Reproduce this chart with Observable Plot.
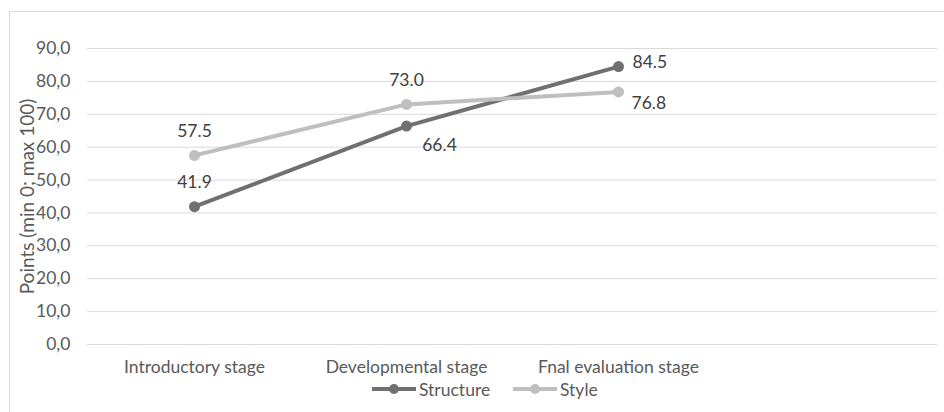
<!DOCTYPE html>
<html><head><meta charset="utf-8">
<script src="https://cdn.jsdelivr.net/npm/d3@7"></script>
<script src="https://cdn.jsdelivr.net/npm/@observablehq/plot@0.6"></script>
<style>
body{margin:0;background:#fff;}
#wrap{position:relative;width:944px;height:412px;overflow:hidden;font-family:Lato,"Open Sans",sans-serif;}
#frame{position:absolute;left:9px;top:11px;width:1000px;height:500px;border-left:1px solid #d9d9d9;border-top:1px solid #d9d9d9;}
#chart{position:absolute;left:0;top:0;}
#legend{position:absolute;left:0;top:378px;width:944px;height:24px;font-size:17.5px;color:#595959;}
.item{display:flex;align-items:center;position:absolute;top:0;height:22px;}
.sw{position:relative;width:44px;height:22px;margin-right:3px;}
.sw .ln{position:absolute;left:0;right:0;top:9px;height:4px;}
.sw .dt{position:absolute;left:17px;top:6px;width:10px;height:10px;border-radius:50%;}
</style></head>
<body><div id="wrap"><div id="frame"></div><div id="chart"></div>
<div id="legend"></div></div>
<script>
const categories = ["Introductory stage", "Developmental stage", "Fnal evaluation stage"];
const seriesNames = ["Structure", "Style"];
const structureValues = [41.9, 66.4, 84.5];
const styleValues = [57.5, 73.0, 76.8];
const yTicks = [0, 10, 20, 30, 40, 50, 60, 70, 80, 90];
const yTitle = "Points (min 0; max 100)";
const colors = ["#707070", "#bfbfbf"];

const data = [];
categories.forEach((c, i) => {
  data.push({stage: c, series: "Structure", value: structureValues[i], i});
  data.push({stage: c, series: "Style", value: styleValues[i], i});
});
const fmt = v => v.toFixed(1);
const lab = (s, i) => d => d.series === s && d.i === i;
const FONT = "Lato, sans-serif";
const textStyle = {fill: "#404040", fontSize: 17.5, fontFamily: FONT};

const plot = Plot.plot({
  width: 944, height: 380,
  marginLeft: 87, marginRight: 7, marginTop: 48, marginBottom: 36,
  style: {fontFamily: FONT, fontSize: "17.5px", color: "#595959", background: "transparent"},
  x: {type: "band", domain: categories, range: [87, 87 + 3 * 212.5], padding: 0, label: null, tickSize: 0, tickPadding: 16},
  y: {domain: [0, 90], ticks: yTicks, tickFormat: v => v.toFixed(1).replace(".", ","), label: null, tickSize: 0, tickPadding: 17},
  color: {domain: seriesNames, range: colors},
  marks: [
    Plot.ruleY(yTicks, {stroke: "#d9d9d9", strokeWidth: 1}),
    Plot.line(data, {x: "stage", y: "value", z: "series", stroke: "series", strokeWidth: 4}),
    Plot.dot(data, {x: "stage", y: "value", fill: "series", r: 5.5, stroke: null}),
    Plot.text(data.filter(d => d.i === 0 || (d.series === "Style" && d.i === 1)), {x: "stage", y: "value", text: d => fmt(d.value), dy: -24, ...textStyle}),
    Plot.text(data.filter(lab("Structure", 1)), {x: "stage", y: "value", text: d => fmt(d.value), dx: 33, dy: 19, ...textStyle}),
    Plot.text(data.filter(lab("Structure", 2)), {x: "stage", y: "value", text: d => fmt(d.value), dx: 14, dy: -4, textAnchor: "start", ...textStyle}),
    Plot.text(data.filter(lab("Style", 2)), {x: "stage", y: "value", text: d => fmt(d.value), dx: 13, dy: 11, textAnchor: "start", ...textStyle}),
    Plot.text([yTitle], {frameAnchor: "left", text: d => d, rotate: -90, textAnchor: "middle", dx: -60, fill: "#595959", fontSize: 19, fontFamily: FONT})
  ]
});
document.getElementById("chart").appendChild(plot);

const legend = document.getElementById("legend");
const lx = [372, 513];
seriesNames.forEach((s, k) => {
  const it = document.createElement("div");
  it.className = "item";
  it.style.left = lx[k] + "px";
  it.innerHTML = `<div class="sw"><div class="ln" style="background:${colors[k]}"></div><div class="dt" style="background:${colors[k]}"></div></div><span>${s}</span>`;
  legend.appendChild(it);
});
</script></body></html>
